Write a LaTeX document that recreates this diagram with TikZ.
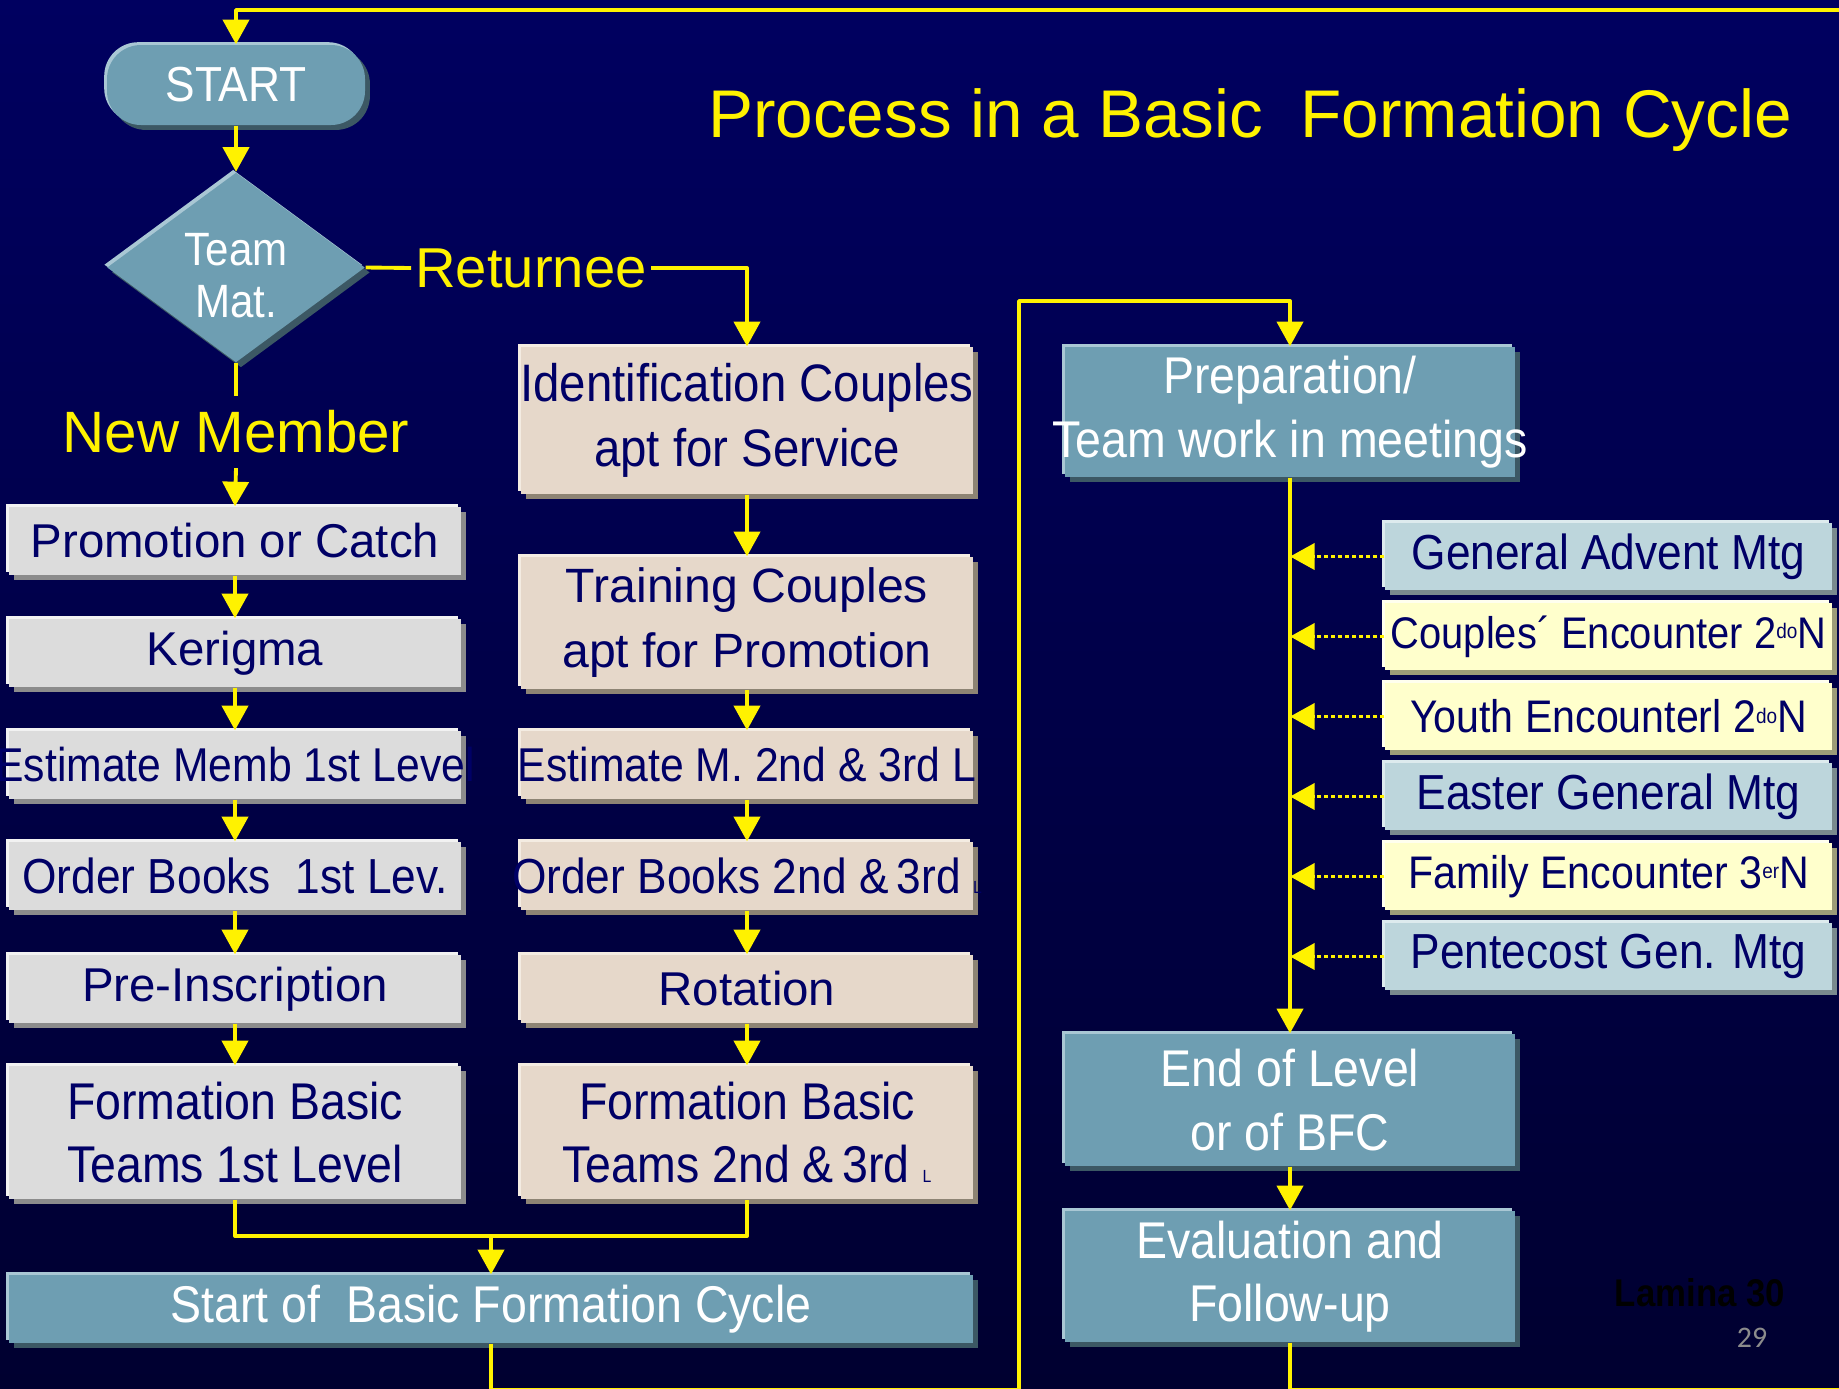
\documentclass[tikz,border=0pt]{standalone}
\usepackage{fontspec}
\setmainfont{Liberation Sans}
\newfontfamily\condfont[FakeStretch=0.9]{Liberation Sans}
\newfontfamily\slidefont{Carlito}
\usetikzlibrary{arrows.meta,shapes.geometric,shadows}
\definecolor{bgtop}{HTML}{000060}
\definecolor{bgbot}{HTML}{000030}
\definecolor{navytext}{HTML}{000066}
\definecolor{steel}{HTML}{6E9EB2}
\definecolor{steelhi}{HTML}{A9C7D4}
\definecolor{steeldk}{HTML}{3C5864}
\definecolor{greyfill}{HTML}{DCDCDC}
\definecolor{greyhi}{HTML}{F2F2F2}
\definecolor{greydk}{HTML}{8C8C8C}
\definecolor{beige}{HTML}{E6D8CA}
\definecolor{beigehi}{HTML}{F4ECE2}
\definecolor{beigedk}{HTML}{8E8474}
\definecolor{paleblue}{HTML}{BDD6DC}
\definecolor{palebluehi}{HTML}{DDEBEE}
\definecolor{palebluedk}{HTML}{7A8A8E}
\definecolor{paleyellow}{HTML}{FFFFCC}
\definecolor{paleyellowhi}{HTML}{FFFFEE}
\definecolor{paleyellowdk}{HTML}{9C9C78}
\newcommand{\ordsup}[1]{\raisebox{2.8pt}{\fontsize{6}{6}\selectfont #1}}
\newcommand{\smallL}{{\fontsize{5}{5}\selectfont L}}
% long lines run past the box edge instead of widening it
\newcommand{\overrun}[1]{\makebox[4cm]{#1}}
\tikzset{
	panel/.style n args={3}{rectangle, inner sep=0pt, align=center, fill=#1,
		general shadow={shadow xshift=-0.8pt, shadow yshift=0.8pt, fill=#2},
		general shadow={shadow xshift=1.4pt, shadow yshift=-1.4pt, fill=#3}},
	greybox/.style={panel={greyfill}{greyhi}{greydk}, text=navytext,
		minimum width=4.52cm, minimum height=0.68cm, font=\fontsize{13.5}{18}\selectfont},
	beigebox/.style={panel={beige}{beigehi}{beigedk}, text=navytext,
		minimum width=4.52cm, minimum height=0.68cm, font=\fontsize{13.5}{18}\selectfont},
	steelbox/.style={panel={steel}{steelhi}{steeldk}, text=white,
		minimum width=4.5cm, minimum height=1.31cm, font=\condfont\fontsize{14.7}{18}\selectfont},
	bluetab/.style={panel={paleblue}{palebluehi}{palebluedk}, text=navytext,
		minimum width=4.47cm, minimum height=0.67cm},
	yellowtab/.style={panel={paleyellow}{paleyellowhi}{paleyellowdk}, text=navytext,
		minimum width=4.47cm, minimum height=0.67cm},
	cue/.style={text=yellow, inner xsep=1pt, font=\fontsize{16}{18}\selectfont},
	flowline/.style={draw=yellow, line width=1.1pt},
	flowarrow/.style={flowline, -{Triangle[length=7pt, width=7.4pt]}},
	feedarrow/.style={flowarrow, dash pattern=on 1.1pt off 0.9pt}
}
\begin{document}
\begin{tikzpicture}[line join=round]
	\useasboundingbox (0,0) rectangle (18.39,-13.88);
	\fill[top color=bgtop, bottom color=bgbot] (0,0) rectangle (18.39,-13.88);
	\path
		(18.8,-0.1) coordinate (ne)
		(18.8,-13.9) coordinate (se)
		(4.91,-12.36) coordinate (join)
		(10.19,-3.01) coordinate (turn);
	% title and entry
	\node[text=yellow, anchor=base, font=\fontsize{19.2}{22}\selectfont] (title) at (12.5,-1.37)
		{Process in a Basic~ Formation Cycle};
	\node[panel={steel}{steelhi}{steeldk}, rounded corners=0.34cm, minimum width=2.58cm,
		minimum height=0.8cm, text=white, font=\condfont\fontsize{14}{18}\selectfont] (start) at (2.36,-0.85) {START};
	\node[panel={steel}{steelhi}{steeldk}, diamond, minimum width=2.58cm, minimum height=1.9cm,
		label={[align=center, yshift=-2.2pt, text=white, font=\condfont\fontsize{13.3}{14.8}\selectfont]center:Team\\Mat.}]
		(team) at (2.36,-2.675) {};
	\node[cue] (ret) at (5.31,-2.68) {Returnee};
	\node[cue, inner ysep=4pt, font=\fontsize{16.6}{18}\selectfont] (new) at (2.36,-4.32) {New Member};
	% new members
	\node[greybox] (promo) at (2.35,-5.41) {Promotion or Catch};
	\node[greybox] (kerig) at (2.35,-6.53) {Kerigma};
	\node[greybox, font=\condfont\fontsize{13.5}{18}\selectfont] (est1) at (2.35,-7.65) {\overrun{Estimate Memb 1st Level}};
	\node[greybox, font=\condfont\fontsize{14}{18}\selectfont] (ord1) at (2.35,-8.76) {\overrun{Order Books~ 1st Lev.}};
	\node[greybox] (pre) at (2.35,-9.89) {Pre-Inscription};
	\node[greybox, minimum height=1.33cm, font=\condfont\fontsize{14.7}{18}\selectfont] (form1) at (2.35,-11.325)
		{Formation Basic\\Teams 1st Level};
	% returnees
	\node[beigebox, minimum height=1.47cm, font=\condfont\fontsize{15}{18.5}\selectfont] (ident) at (7.47,-4.205)
		{\overrun{Identification Couples}\\apt for Service};
	\node[beigebox, minimum height=1.32cm, font=\fontsize{13.7}{18.5}\selectfont] (train) at (7.47,-6.23)
		{Training Couples\\apt for Promotion};
	\node[beigebox, font=\condfont\fontsize{13.5}{18}\selectfont] (est2) at (7.47,-7.65) {\overrun{Estimate M. 2nd \& 3rd L}};
	\node[beigebox, font=\condfont\fontsize{14}{18}\selectfont] (ord2) at (7.47,-8.76) {\overrun{Order Books 2nd \&\,3rd \smallL}};
	\node[beigebox] (rot) at (7.47,-9.89) {Rotation};
	\node[beigebox, minimum height=1.33cm, font=\condfont\fontsize{14.7}{18}\selectfont] (form2) at (7.47,-11.325)
		{Formation Basic\\Teams 2nd \&\,3rd \smallL};
	\node[steelbox, minimum width=9.64cm, minimum height=0.68cm] (bfc) at (4.91,-13.09)
		{Start of~ Basic Formation Cycle};
	% cycle
	\node[steelbox, minimum height=1.3cm] (prep) at (12.9,-4.12) {Preparation/\\\overrun{Team work in meetings}};
	\node[steelbox, minimum height=1.32cm] (endlev) at (12.9,-11.0) {End of Level\\or of BFC};
	\node[steelbox] (eval) at (12.9,-12.765) {Evaluation and\\Follow-up};
	\node[font=\condfont\bfseries\fontsize{11}{13}\selectfont, text=black] (lamina) at (17.0,-12.93) {Lamina 30};
	\node[font=\slidefont\fontsize{8.5}{10}\selectfont, text=greydk] (page) at (17.52,-13.38) {29};
	% connectors
	\draw[flowarrow] (start) -- (team);
	\draw[flowline] (team.east) -- (ret.west);
	\draw[flowarrow] (ret.east) -| (ident.north);
	\draw[flowline] (team.south) -- (new.north);
	\draw[flowarrow] (new.south) -- (promo.north);
	\foreach \a/\b in {promo/kerig, kerig/est1, est1/ord1, ord1/pre, pre/form1,
		ident/train, train/est2, est2/ord2, ord2/rot, rot/form2, prep/endlev, endlev/eval}
		\draw[flowarrow] (\a.south) -- (\b.north);
	\draw[flowline] (form1.south) |- (join) -| (form2.south);
	\draw[flowarrow] (join) -- (bfc.north);
	\draw[flowarrow] (bfc.south) |- (turn |- se) -- (turn) -| (prep.north);
	\draw[flowarrow] (eval.south) |- (se) -- (ne) -| (start.north);
	\foreach [count=\i] \kind/\size/\txt in {bluetab/14/General Advent Mtg,
		yellowtab/12.6/Couples´ Encounter 2\ordsup{do}N, yellowtab/13/Youth Encounterl 2\ordsup{do}N,
		bluetab/14/Easter General Mtg, yellowtab/13/Family Encounter 3\ordsup{er}N,
		bluetab/14/Pentecost Gen. Mtg}
	{
		\node[\kind, font=\condfont\fontsize{\size}{16}\selectfont] (tab\i) at (16.085,{-5.565-0.8*(\i-1)}) {\txt};
		\draw[feedarrow] (tab\i.west) -- (tab\i.west -| prep.south);
	}
\end{tikzpicture}
\end{document}
